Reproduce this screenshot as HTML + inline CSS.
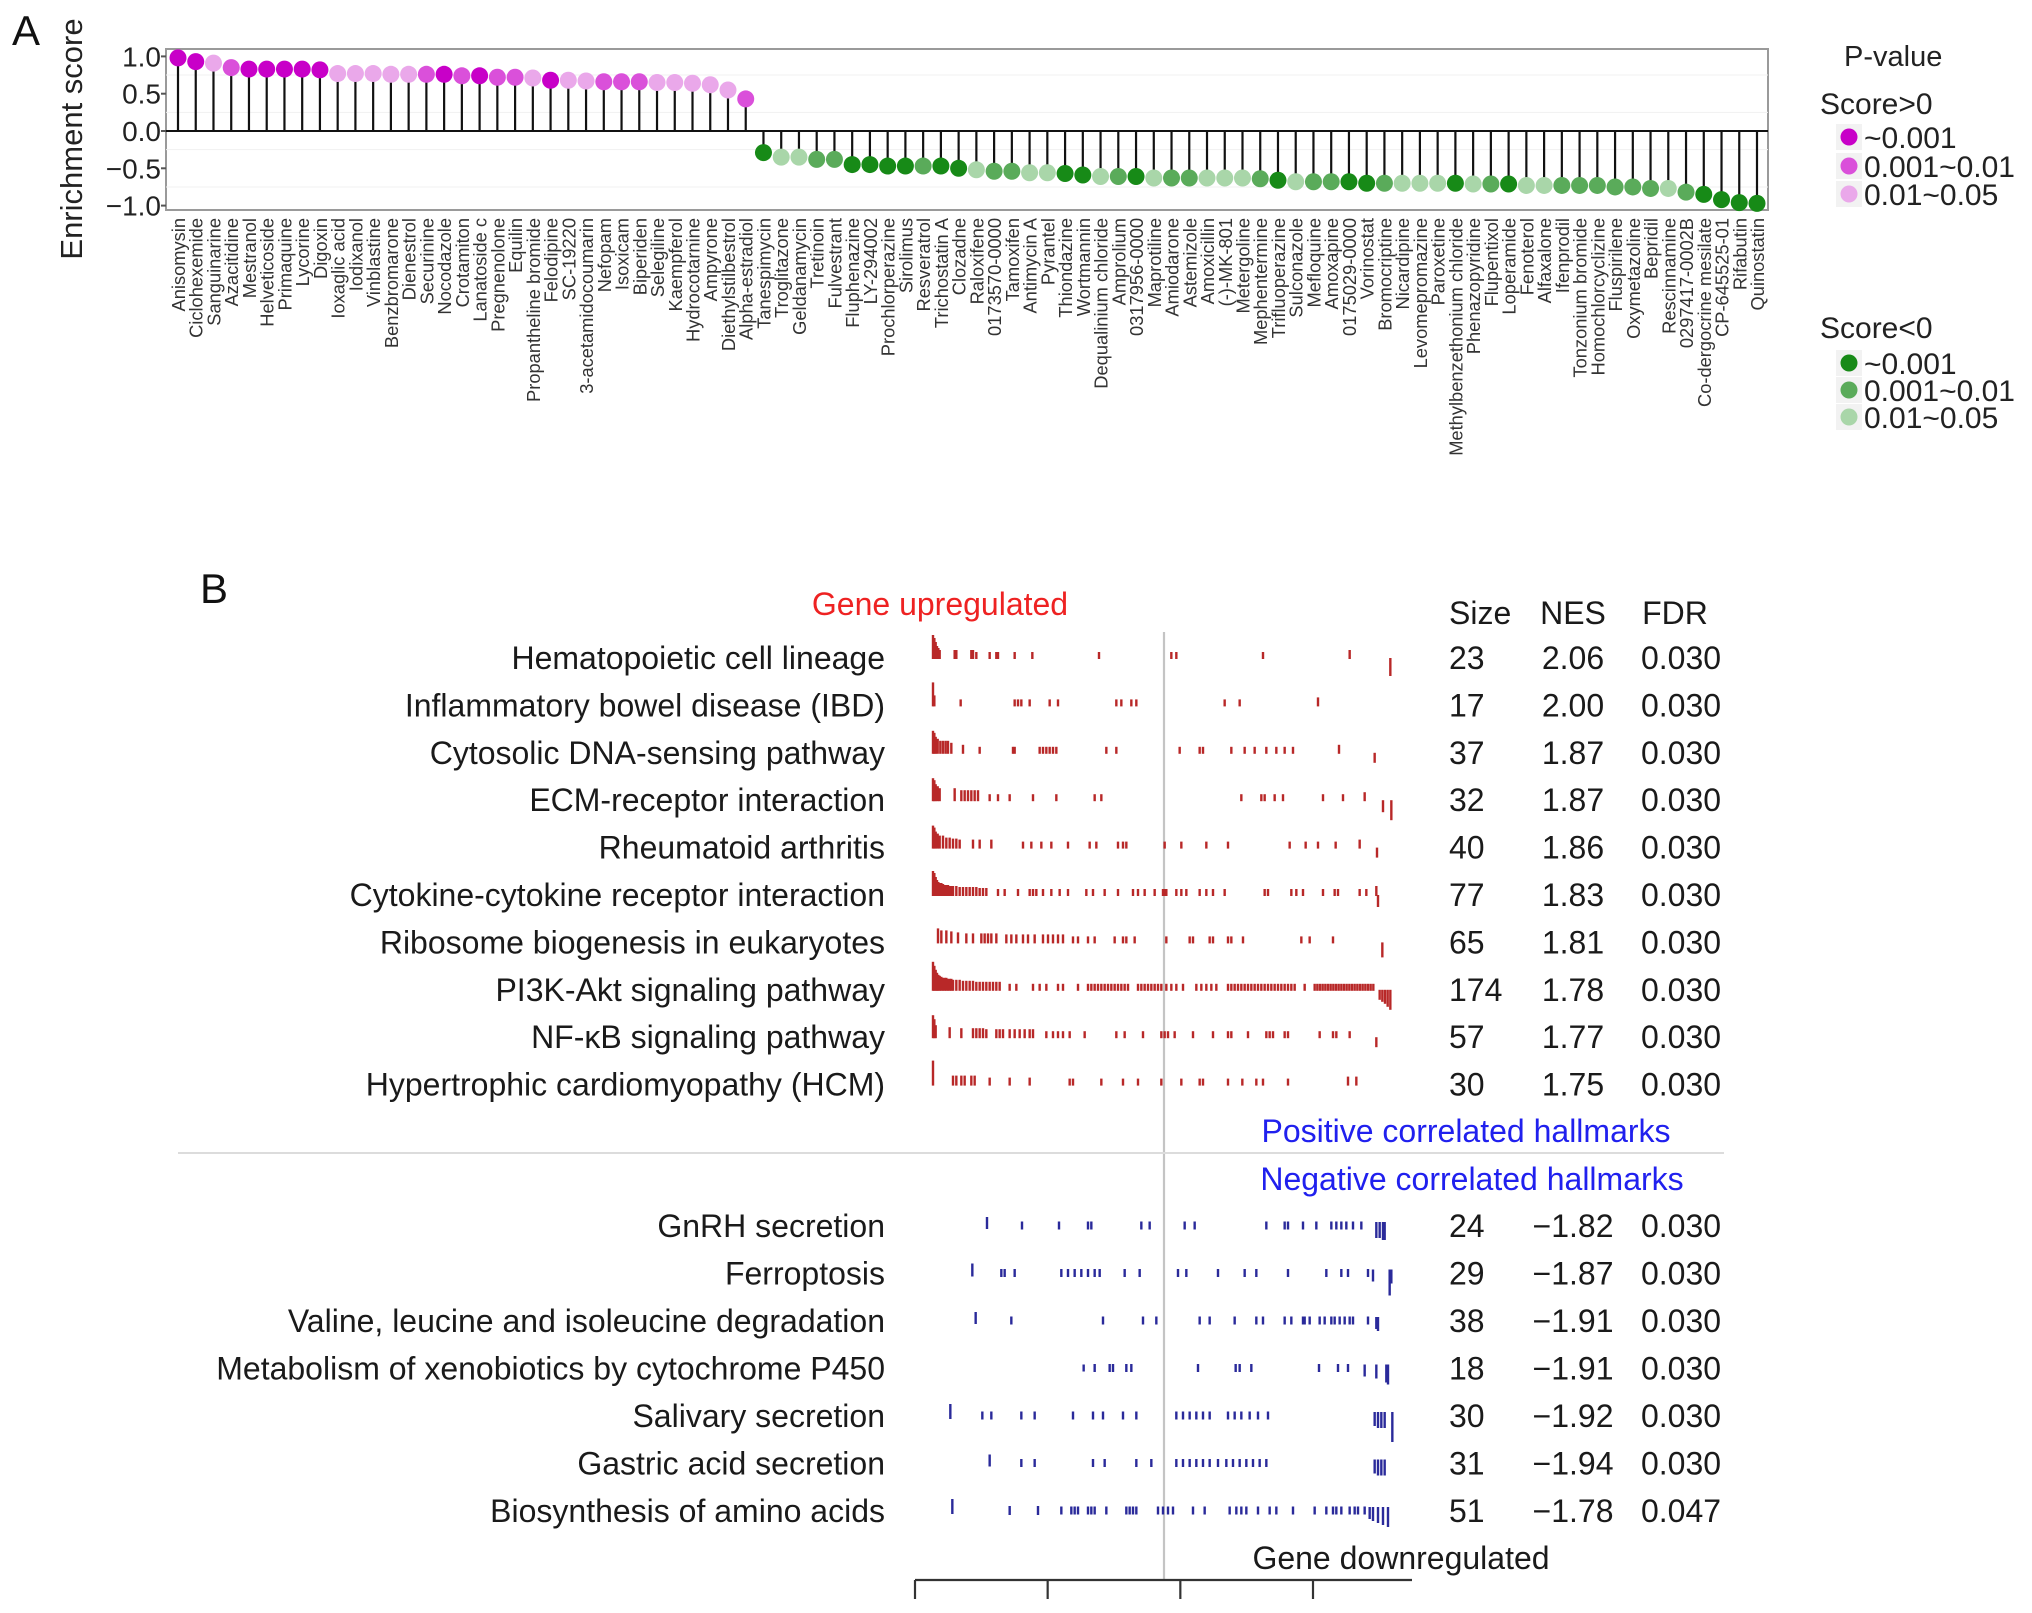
<!DOCTYPE html>
<html><head><meta charset="utf-8">
<style>
html,body{margin:0;padding:0;background:#fff;}
svg{display:block;font-family:"Liberation Sans",Arial,sans-serif;}
</style></head>
<body>
<svg id="fig" width="2032" height="1613" viewBox="0 0 2032 1613" xmlns="http://www.w3.org/2000/svg">
  <text x="12" y="45" font-size="42" fill="#111">A</text>
  <text x="200" y="603" font-size="42" fill="#111">B</text>
  <g id="panelA"></g>
  <g id="legendA"></g>
  <g id="panelB"></g>
</svg>
<script>
// ---------------- Panel A data ----------------
const drugNames = ["Anisomysin","Ciclohexemide","Sanguinarine","Azacitidine","Mestranol","Helveticoside","Primaquine","Lycorine","Digoxin","Ioxaglic acid","Iodixanol","Vinblastine","Benzbromarone","Dienestrol","Securinine","Nocodazole","Crotamiton","Lanatoside c","Pregnenolone","Equilin","Propantheline bromide","Felodipine","SC-19220","3-acetamidocoumarin","Nefopam","Isoxicam","Biperiden","Selegiline","Kaempferol","Hydrocotarnine","Ampyrone","Diethylstilbestrol","Alpha-estradiol",
"Tanespimycin","Troglitazone","Geldanamycin","Tretinoin","Fulvestrant","Fluphenazine","LY-294002","Prochlorperazine","Sirolimus","Resveratrol","Trichostatin A","Clozadne","Raloxifene","0173570-0000","Tamoxifen","Antimycin A","Pyrantel","Thiondazine","Wortmannin","Dequalinium chloride","Amprolium","0317956-0000","Maprotiline","Amiodarone","Astemizole","Amoxicillin","(-)-MK-801","Metergoline","Mephentermine","Trifluoperazine","Sulconazole","Mefloquine","Amoxapine","0175029-0000","Vorinostat","Bromocriptine","Nicardipine","Levomepromazine","Paroxetine","Methylbenzethonium chloride","Phenazopyridine","Flupentixol","Loperamide","Fenoterol","Alfaxalone","Ifenprodil","Tonzonium bromide","Homochlorcyclizine","Fluspirilene","Oxymetazoline","Bepridil","Rescinnamine","0297417-0002B","Co-dergocrine mesilate","CP-645525-01","Rifabutin","Quinostatin"];
const enrichScores = [0.98,0.93,0.91,0.85,0.83,0.83,0.83,0.83,0.82,0.77,0.77,0.77,0.76,0.76,0.76,0.76,0.74,0.74,0.72,0.72,0.71,0.68,0.68,0.67,0.66,0.66,0.66,0.65,0.65,0.64,0.62,0.55,0.43,
-0.29,-0.35,-0.35,-0.38,-0.38,-0.45,-0.45,-0.47,-0.47,-0.47,-0.47,-0.50,-0.52,-0.54,-0.54,-0.56,-0.56,-0.57,-0.59,-0.61,-0.61,-0.61,-0.63,-0.63,-0.63,-0.63,-0.63,-0.63,-0.64,-0.66,-0.68,-0.68,-0.68,-0.68,-0.70,-0.70,-0.70,-0.70,-0.70,-0.70,-0.71,-0.71,-0.71,-0.73,-0.73,-0.73,-0.73,-0.73,-0.75,-0.75,-0.77,-0.77,-0.82,-0.85,-0.92,-0.96,-0.97];
// p-value class: 1 = ~0.001, 2 = 0.001~0.01, 3 = 0.01~0.05
const pClass = [1,1,3,2,1,1,1,1,1,3,3,3,3,3,2,1,2,1,2,2,3,1,3,3,2,2,2,3,3,3,3,3,2,
1,3,3,2,2,1,1,1,1,2,1,1,3,2,2,3,3,1,1,3,2,1,3,2,2,3,3,3,2,1,3,2,2,1,1,2,3,3,3,1,3,2,1,3,3,2,2,2,2,2,2,3,2,1,1,1,1];
const yTicks = [1.0,0.5,0.0,-0.5,-1.0];
const yTickLabels = ["1.0","0.5","0.0","\u22120.5","\u22121.0"];
const posColors = ["#c800c8","#da50da","#eaa8ea"];
const negColors = ["#178a17","#5aab5a","#a9d6a9"];
const legendLabels = ["~0.001","0.001~0.01","0.01~0.05"];

const NS = "http://www.w3.org/2000/svg";
function mk(tag, attrs, parent){const e=document.createElementNS(NS,tag);for(const k in attrs)e.setAttribute(k,attrs[k]);parent.appendChild(e);return e;}

const A = document.getElementById('panelA');
const boxL=166, boxR=1768, boxT=49, boxB=210;
const yA = v => 131 - v*74.6;
const xA = i => 178 + i*(1757-178)/(drugNames.length-1);

let box = mk('rect',{x:boxL,y:boxT,width:boxR-boxL,height:boxB-boxT,fill:'#fff',stroke:'#9a9a9a','stroke-width':2},A);


[0.75,0.25,-0.25,-0.75].forEach(v=>{
  const g=mk('line',{x1:boxL,x2:boxR,y1:yA(v),y2:yA(v),stroke:'#f1f1f1','stroke-width':1},A);
  
  
});
yTicks.forEach((v,i)=>{
  const t=mk('line',{x1:boxL-5,x2:boxL,y1:yA(v),y2:yA(v),stroke:'#555','stroke-width':2},A);
  
  
  const l=mk('text',{x:boxL-5,y:yA(v)+10,'text-anchor':'end','font-size':28,fill:'#222'},A);
  l.textContent=yTickLabels[i];
  
  
});
const zl=mk('line',{x1:boxL,x2:boxR,y1:yA(0),y2:yA(0),stroke:'#111','stroke-width':2},A);


const yt=mk('text',{x:0,y:0,transform:'translate(82,139) rotate(-90)','text-anchor':'middle','font-size':31,fill:'#222'},A);
yt.textContent='Enrichment score';



drugNames.forEach((n,i)=>{
  const v=enrichScores[i], x=xA(i);
  const s=mk('line',{x1:x,x2:x,y1:yA(0),y2:yA(v),stroke:'#111','stroke-width':2.2},A);
  
  
  const col = v>=0 ? posColors[pClass[i]-1] : negColors[pClass[i]-1];
  const c=mk('circle',{cx:x,cy:yA(v),r:8.5,fill:col},A);
  
  
  const t=mk('text',{x:0,y:0,transform:`translate(${x+7},218) rotate(-90)`,'text-anchor':'end','font-size':18.3,fill:'#333'},A);
  t.textContent=n;
  
  
});

// legend
const L=document.getElementById('legendA');
const lt=mk('text',{x:1844,y:66,'font-size':29,fill:'#222'},L); lt.textContent='P-value';


function legendGroup(title, ty, ys, cols){
  const h=mk('text',{x:1820,y:ty,'font-size':30,fill:'#222'},L); h.textContent=title;
  
  
  ys.forEach((y,i)=>{
    const bg=mk('rect',{x:1836,y:y-13,width:26,height:26,fill:'#f2f2f2'},L);
    
    
    const c=mk('circle',{cx:1849,cy:y,r:8.5,fill:cols[i]},L);
    
    
    const t=mk('text',{x:1864,y:y+11,'font-size':30,fill:'#222'},L); t.textContent=legendLabels[i];
    
    
  });
}
legendGroup('Score>0',114,[137,166,194],posColors);
legendGroup('Score<0',338,[363,390,417],negColors);

// ---------------- Panel B data ----------------
const upNames = ["Hematopoietic cell lineage","Inflammatory bowel disease (IBD)","Cytosolic DNA-sensing pathway","ECM-receptor interaction","Rheumatoid arthritis","Cytokine-cytokine receptor interaction","Ribosome biogenesis in eukaryotes","PI3K-Akt signaling pathway","NF-\u03baB signaling pathway","Hypertrophic cardiomyopathy (HCM)"];
const upSize = ["23","17","37","32","40","77","65","174","57","30"];
const upNES = ["2.06","2.00","1.87","1.87","1.86","1.83","1.81","1.78","1.77","1.75"];
const upFDR = ["0.030","0.030","0.030","0.030","0.030","0.030","0.030","0.030","0.030","0.030"];
const downNames = ["GnRH secretion","Ferroptosis","Valine, leucine and isoleucine degradation","Metabolism of xenobiotics by cytochrome P450","Salivary secretion","Gastric acid secretion","Biosynthesis of amino acids"];
const downSize = ["24","29","38","18","30","31","51"];
const downNES = ["\u22121.82","\u22121.87","\u22121.91","\u22121.91","\u22121.92","\u22121.94","\u22121.78"];
const downFDR = ["0.030","0.030","0.030","0.030","0.030","0.030","0.047"];

// gene ranks (0..1380) of pathway hits, with head / tail bar heights
const upRanks = [
 [0,4,8,12,16,20,65,70,115,120,130,170,190,195,245,298,498,715,730,990,1250,1372],
 [0,4,83,245,255,265,290,350,375,550,565,595,610,875,920,1155],
 [0,4,8,14,22,30,38,45,55,90,140,240,245,320,330,340,350,360,370,520,550,740,800,810,895,935,965,1000,1030,1055,1080,1218,1325],
 [0,4,8,14,20,65,85,95,105,115,125,135,170,195,230,300,370,485,505,925,985,995,1025,1050,1170,1230,1295,1350,1375],
 [0,4,8,14,20,30,40,50,60,70,80,120,140,175,270,295,325,355,405,470,490,555,570,580,695,745,820,885,1070,1118,1155,1208,1280,1332],
 [0,4,8,12,16,20,25,30,35,40,45,50,55,60,70,80,90,100,110,120,130,140,150,160,195,215,255,290,300,310,330,355,380,405,460,480,515,555,600,615,635,665,690,695,700,730,745,760,800,820,840,875,995,1005,1075,1090,1110,1170,1205,1215,1280,1300,1330,1335],
 [15,25,40,55,75,100,120,145,155,165,175,190,220,235,250,270,285,305,330,345,360,375,390,420,435,465,485,545,570,580,605,700,770,780,830,840,885,895,930,1105,1130,1200,1348],
 [0,4,8,12,16,20,25,30,35,40,45,50,55,60,70,80,90,100,110,120,130,140,150,160,170,180,190,200,230,250,300,320,340,375,390,435,465,475,485,495,505,515,525,535,545,555,565,575,585,615,625,635,645,655,665,675,685,700,715,730,750,790,805,820,835,850,885,895,905,915,925,935,945,955,965,975,985,995,1005,1015,1025,1035,1045,1055,1065,1075,1085,1115,1145,1153,1161,1169,1177,1185,1193,1201,1209,1217,1225,1233,1241,1249,1257,1265,1273,1281,1289,1297,1305,1313,1321,1340,1348,1356,1364,1372],
 [0,4,8,50,85,120,130,140,150,160,190,200,210,230,245,260,275,290,300,340,360,375,390,410,455,550,575,630,685,695,705,725,780,840,885,895,945,1000,1010,1020,1055,1065,1160,1200,1210,1250,1330],
 [0,60,70,85,95,115,125,170,230,290,410,420,505,570,615,685,745,800,810,885,928,970,990,1065,1245,1270]
];
const upHead = [[23,20,16,12,10,8,8,8,8,8],[23,10],[22,20,16,14,12,12,12,12,10,8],[22,20,16,14,12,12,10,10,10,10,10,10],[22,20,16,14,12,12,10,10,9,9,8,8,8,8],[24,22,18,15,13,12,12,11,10,10,10,9,9,9,9,8,8,8,8,8,8,7,7,7],[14,12,12,11,10,9,9,9,9,9,9,9,8,8,8,8,8,8,8,8,8,8,8],[28,24,20,17,15,14,13,12,12,12,11,11,11,10,10,10,9,9,9,9,8,8,8,8,8,8,8,8],[22,18,12,10,9,9,9,9,9,8,8,8,8,8,8,8,8,8,8],[24,9,9,9,9,9,9,7,7,7]];
const upTail = [[8,-18],[8],[8,-10],[8,-12,-20],[8,-10],[9,-12],[-15],[-10,-12,-14,-17,-20],[-10],[8,8]];

const downRanks = [
 [162,267,378,465,475,625,650,755,785,1000,1055,1065,1110,1150,1195,1210,1225,1240,1260,1285,1330,1340,1350,1355],
 [118,205,215,245,385,405,425,445,465,485,500,575,620,735,760,855,935,970,1065,1180,1225,1245,1305,1320,1370,1375],
 [128,235,510,630,670,800,830,905,970,990,1055,1075,1110,1115,1130,1160,1175,1195,1205,1220,1235,1250,1260,1305,1330,1335],
 [452,485,530,540,580,595,795,908,920,955,1158,1215,1245,1295,1330,1360,1365],
 [52,148,175,265,305,420,480,510,570,610,730,750,770,790,810,830,885,905,925,950,975,1005,1325,1335,1345,1355,1378],
 [170,265,305,480,515,610,655,730,750,770,790,810,830,855,880,900,920,940,960,980,1000,1325,1335,1345,1355],
 [58,230,315,385,415,425,435,465,475,485,520,580,590,600,610,675,690,705,720,780,815,890,910,925,940,975,1010,1030,1080,1145,1180,1200,1210,1225,1250,1265,1275,1295,1310,1320,1335,1350,1365]
];
const downHead = [[9],[10],[9,7],[6],[12,7,7],[9],[12,8,8]];
const downTail = [[-12,-12,-14,-14],[-8,-22,-10],[-8,-10],[-8,-10,-14,-16],[-10,-12,-12,-12,-26],[-10,-12,-12,-12],[-8,-10,-12,-14,-16]];

const B = document.getElementById('panelB');
const RANK_MAX = 1380;
const xB = r => 933 + r*(460/RANK_MAX);
const upY = i => 658 + i*47.4;
const downY = i => 1226 + i*47.5;

function txt(x,y,s,attrs,name,inter){
  const a=Object.assign({x:x,y:y,'font-size':32,fill:'#1a1a1a'},attrs||{});
  const t=mk('text',a,B); t.textContent=s;
  
  
  return t;
}
// reference lines
const vl=mk('line',{x1:1164,x2:1164,y1:632,y2:1580,stroke:'#c4c4c4','stroke-width':2.2},B);


const hl=mk('line',{x1:178,x2:1724,y1:1153,y2:1153,stroke:'#dcdcdc','stroke-width':2},B);



txt(940,615,'Gene upregulated',{'text-anchor':'middle','font-size':32,fill:'#ee2222'},'gene-upregulated-title',false);
txt(1449,624,'Size',{},'size-header',false);
txt(1573,624,'NES',{'text-anchor':'middle'},'nes-header',false);
txt(1675,624,'FDR',{'text-anchor':'middle'},'fdr-header',false);
txt(1466,1142,'Positive correlated hallmarks',{'text-anchor':'middle','font-size':32,fill:'#2020ee'},'positive-hallmarks-title',false);
txt(1472,1190,'Negative correlated hallmarks',{'text-anchor':'middle','font-size':32,fill:'#2020ee'},'negative-hallmarks-title',false);
txt(1401,1569,'Gene downregulated',{'text-anchor':'middle','font-size':32},'gene-downregulated-title',false);

function drawBars(ranks, head, tail, yc, color, isDown){
  const n=ranks.length;
  ranks.forEach((r,k)=>{
    let h = isDown ? 7 : 6;
    if(k<head.length) h=head[k];
    const ti = k-(n-tail.length);
    if(ti>=0) h=tail[ti];
    let y1,y2;
    if(h<0){ y1=yc-(isDown?4:0); y2=yc-h; }
    else if(isDown && h<=8){ y1=yc-h/2-1; y2=yc+h/2; }
    else { y1=yc-h; y2=yc+(isDown?3:1); }
    const x=xB(r);
    const b=mk('line',{x1:x,x2:x,y1:y1,y2:y2,stroke:color,'stroke-width':2.4},B);
    
    
  });
}
upNames.forEach((n,i)=>{
  const y=upY(i);
  txt(885,y+11,n,{'text-anchor':'end'},'pathway-label',false);
  txt(1449,y+11,upSize[i],{},'size-value',false);
  txt(1573,y+11,upNES[i],{'text-anchor':'middle'},'nes-value',false);
  txt(1681,y+11,upFDR[i],{'text-anchor':'middle'},'fdr-value',false);
  drawBars(upRanks[i],upHead[i],upTail[i],y,'#b82828',false);
});
downNames.forEach((n,i)=>{
  const y=downY(i);
  txt(885,y+11,n,{'text-anchor':'end'},'pathway-label',false);
  txt(1449,y+11,downSize[i],{},'size-value',false);
  txt(1573,y+11,downNES[i],{'text-anchor':'middle'},'nes-value',false);
  txt(1681,y+11,downFDR[i],{'text-anchor':'middle'},'fdr-value',false);
  drawBars(downRanks[i],downHead[i],downTail[i],y,'#2a2a9a',true);
});
// bottom axis
const bx=mk('line',{x1:915,x2:1412,y1:1580,y2:1580,stroke:'#333','stroke-width':2.2},B);


const axisTicks=[0,400,800,1200];
axisTicks.forEach(t=>{
  const x=915+t*(1313-915)/1200;
  const l=mk('line',{x1:x,x2:x,y1:1580,y2:1599,stroke:'#333','stroke-width':2.2},B);
  
  
});
</script>
</body></html>
